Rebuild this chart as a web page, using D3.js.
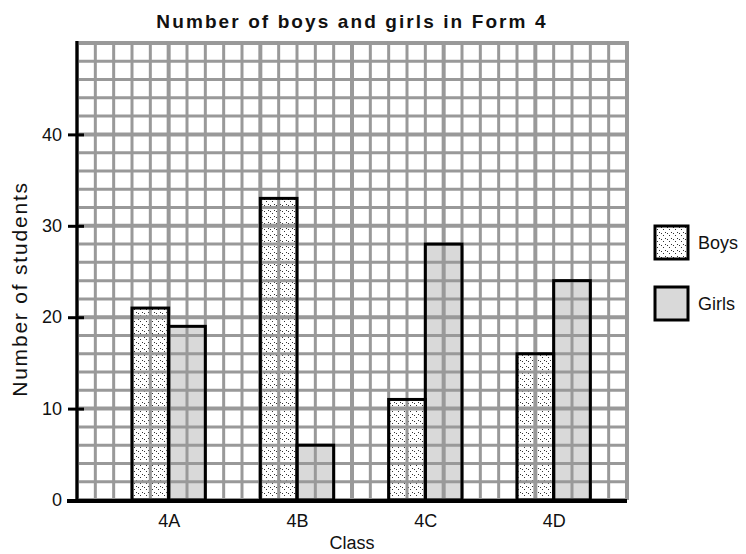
<!DOCTYPE html>
<html>
<head>
<meta charset="utf-8">
<script src="https://cdn.jsdelivr.net/npm/d3@7"></script>
<style>
  body { margin: 0; background: #fff; }
  text { font-family: "Liberation Sans", Arial, Helvetica, sans-serif; fill: #111; }
</style>
</head>
<body>
<div id="chart"></div>
<script>
// data
var classes = ["4A", "4B", "4C", "4D"];
var boys = [21, 33, 11, 16];
var girls = [19, 6, 28, 24];
var yTicks = [0, 10, 20, 30, 40];
var seriesNames = ["Boys", "Girls"];

var w = 746, h = 554;
var plotLeft = 77, plotTop = 43, plotRight = 627, plotBottom = 500;

var svg = d3.select("#chart")
    .append("svg")
    .attr("width", w)
    .attr("height", h);

// dotted pattern for boys
var defs = svg.append("defs");
var pat = defs.append("pattern")
    .attr("id", "boysPat")
    .attr("patternUnits", "userSpaceOnUse")
    .attr("width", 6)
    .attr("height", 6);
pat.append("rect").attr("width", 6).attr("height", 6).attr("fill", "#fff");
[[0, 1], [2, 3], [4, 0]].forEach(function(p) {
    pat.append("rect")
        .attr("x", p[0]).attr("y", p[1])
        .attr("width", 1).attr("height", 1)
        .attr("fill", "#333");
});

// scales: grid cells (30 across) and values 0..50
var cell = d3.scaleLinear().domain([0, 30]).range([plotLeft, plotRight]);
var y = d3.scaleLinear().domain([0, 50]).range([plotBottom, plotTop]);
var x = d3.scalePoint().domain(classes).range([cell(5), cell(26)]);
var barW = cell(2) - cell(0);

var rows = classes.map(function(c, i) {
    return { cls: c, boys: boys[i], girls: girls[i] };
});

// bar fills first, the grid shows through them
function drawBars(g, fillOnly) {
    g.selectAll("rect.b")
        .data(rows)
        .enter()
        .append("rect")
        .attr("class", "b")
        .attr("x", function(d) { return x(d.cls) - barW; })
        .attr("y", function(d) { return y(d.boys); })
        .attr("width", barW)
        .attr("height", function(d) { return y(0) - y(d.boys); })
        .attr("fill", fillOnly ? "url(#boysPat)" : "none")
        .attr("stroke", fillOnly ? "none" : "#000")
        .attr("stroke-width", 3);
    g.selectAll("rect.g")
        .data(rows)
        .enter()
        .append("rect")
        .attr("class", "g")
        .attr("x", function(d) { return x(d.cls); })
        .attr("y", function(d) { return y(d.girls); })
        .attr("width", barW)
        .attr("height", function(d) { return y(0) - y(d.girls); })
        .attr("fill", fillOnly ? "#d9d9d9" : "none")
        .attr("stroke", fillOnly ? "none" : "#000")
        .attr("stroke-width", 3);
}

drawBars(svg.append("g"), true);

// grid
var grid = svg.append("g").attr("stroke", "#999");
grid.selectAll("line.h")
    .data(d3.range(0, 51, 2))
    .enter()
    .append("line")
    .attr("x1", plotLeft).attr("x2", plotRight)
    .attr("y1", function(d) { return y(d); })
    .attr("y2", function(d) { return y(d); })
    .attr("stroke-width", function(d) { return d % 10 == 0 ? 4 : 3; });
grid.selectAll("line.v")
    .data(d3.range(0, 31))
    .enter()
    .append("line")
    .attr("y1", plotTop - 2).attr("y2", plotBottom)
    .attr("x1", function(d) { return cell(d); })
    .attr("x2", function(d) { return cell(d); })
    .attr("stroke-width", function(d) { return d % 5 == 0 ? 4 : 3; });

drawBars(svg.append("g"), false);

// axes
var yAxis = d3.axisLeft(y)
    .tickValues(yTicks)
    .tickSize(9)
    .tickPadding(6);
var ya = svg.append("g")
    .attr("transform", "translate(" + plotLeft + ",0)")
    .call(yAxis);
ya.select(".domain").remove();
ya.selectAll(".tick line").attr("stroke", "#000").attr("stroke-width", 3).attr("x2", -9).attr("x1", 7);
ya.selectAll(".tick text").attr("font-size", 18).attr("font-family", null).attr("fill", "#111");

svg.append("line")
    .attr("x1", plotLeft).attr("x2", plotLeft)
    .attr("y1", plotTop - 2).attr("y2", plotBottom + 2)
    .attr("stroke", "#000").attr("stroke-width", 3);
svg.append("line")
    .attr("x1", plotLeft - 10).attr("x2", plotRight)
    .attr("y1", plotBottom + 1).attr("y2", plotBottom + 1)
    .attr("stroke", "#000").attr("stroke-width", 4);

var xAxis = d3.axisBottom(x).tickSize(0).tickPadding(13);
var xa = svg.append("g")
    .attr("transform", "translate(0," + (plotBottom + 1) + ")")
    .call(xAxis);
xa.select(".domain").remove();
xa.selectAll(".tick text").attr("font-size", 18).attr("font-family", null).attr("fill", "#111");

// titles
svg.append("text")
    .attr("x", (plotLeft + plotRight) / 2)
    .attr("y", 28)
    .attr("text-anchor", "middle")
    .attr("font-size", "19px")
    .attr("font-weight", "bold")
    .attr("letter-spacing", "2.1px")
    .text("Number of boys and girls in Form 4");

svg.append("text")
    .attr("x", (plotLeft + plotRight) / 2)
    .attr("y", 549)
    .attr("text-anchor", "middle")
    .attr("font-size", "18px")
    .text("Class");

svg.append("text")
    .attr("transform", "translate(27,289) rotate(-90)")
    .attr("text-anchor", "middle")
    .attr("font-size", "21px")
    .attr("letter-spacing", "1.8px")
    .text("Number of students");

// legend
var legend = svg.append("g")
    .selectAll("g")
    .data(seriesNames)
    .enter()
    .append("g")
    .attr("transform", function(d, i) { return "translate(655," + (226 + i * 61) + ")"; });
legend.append("rect")
    .attr("width", 33)
    .attr("height", 33)
    .attr("fill", function(d, i) { return i == 0 ? "url(#boysPat)" : "#d9d9d9"; })
    .attr("stroke", "#000")
    .attr("stroke-width", 3);
legend.append("text")
    .attr("x", 43)
    .attr("y", 23)
    .attr("font-size", "18px")
    .text(function(d) { return d; });
</script>
</body>
</html>
